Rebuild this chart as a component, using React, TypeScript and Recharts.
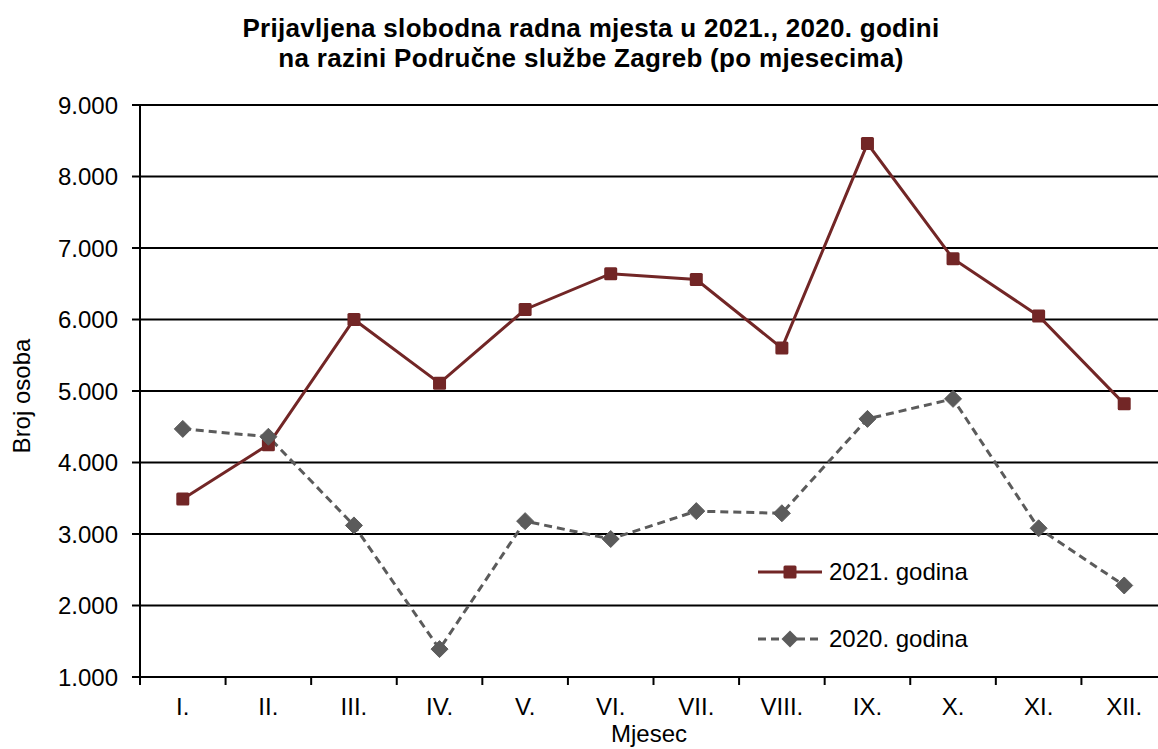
import { LineChart, Line, XAxis, YAxis, CartesianGrid } from 'recharts';

const months = ['I.', 'II.', 'III.', 'IV.', 'V.', 'VI.', 'VII.', 'VIII.', 'IX.', 'X.', 'XI.', 'XII.'];
const values2021 = [3490, 4250, 6000, 5110, 6140, 6640, 6560, 5600, 8460, 6850, 6050, 4820];
const values2020 = [4470, 4360, 3120, 1390, 3180, 2930, 3320, 3290, 4610, 4890, 3080, 2280];
const yTicks = [1000, 2000, 3000, 4000, 5000, 6000, 7000, 8000, 9000];

const data = months.map((m, i) => ({ month: m, y2021: values2021[i], y2020: values2020[i] }));

const COLOR_2021 = '#722626';
const COLOR_2020 = '#5b5b5b';
const FONT = 'Arial, "Liberation Sans", sans-serif';
const BAND = (1167 - 140) / months.length;

const fmt = (v: number) => v.toLocaleString('de-DE');

function SquareDot(props: any) {
  const { cx, cy } = props;
  if (cx == null || cy == null) return null;
  return <rect x={cx - 6.5} y={cy - 6.5} width={13} height={13} rx={1.5} fill={COLOR_2021} />;
}

function DiamondDot(props: any) {
  const { cx, cy } = props;
  if (cx == null || cy == null) return null;
  return (
    <polygon
      points={`${cx},${cy - 8.5} ${cx + 8.5},${cy} ${cx},${cy + 8.5} ${cx - 8.5},${cy}`}
      fill={COLOR_2020}
      strokeLinejoin="round"
      stroke={COLOR_2020}
      strokeWidth={1}
    />
  );
}

function MonthTick(props: any) {
  const { x, payload, index } = props;
  const axisY = 677;
  return (
    <g>
      <line x1={x - BAND / 2} x2={x - BAND / 2} y1={axisY} y2={axisY + 8} stroke="#000" strokeWidth={2} />
      {index === months.length - 1 && (
        <line x1={x + BAND / 2} x2={x + BAND / 2} y1={axisY} y2={axisY + 8} stroke="#000" strokeWidth={2} />
      )}
      <text x={x} y={axisY + 38} textAnchor="middle" fontSize={24} fontFamily={FONT} fill="#000">
        {payload.value}
      </text>
    </g>
  );
}

export default function App() {
  return (
    <div
      style={{
        position: 'absolute',
        left: 0,
        top: 0,
        width: 1158,
        height: 749,
        overflow: 'hidden',
        background: '#fff',
        fontFamily: FONT,
      }}
    >
      <LineChart width={1170} height={749} data={data} margin={{ top: 105, right: 3, left: 0, bottom: 0 }}>
        <CartesianGrid vertical={false} stroke="#000" strokeWidth={2} />
        <XAxis
          dataKey="month"
          scale="band"
          height={72}
          tickLine={false}
          axisLine={{ stroke: '#000', strokeWidth: 2 }}
          tick={<MonthTick />}
          interval={0}
        />
        <YAxis
          width={140}
          domain={[1000, 9000]}
          ticks={yTicks}
          tickFormatter={fmt}
          tickSize={8}
          tickMargin={14}
          tickLine={{ stroke: '#000', strokeWidth: 2 }}
          axisLine={{ stroke: '#000', strokeWidth: 2 }}
          tick={{ fill: '#000', fontSize: 24, fontFamily: FONT }}
          allowDataOverflow
        />
        <Line
          type="linear"
          dataKey="y2021"
          stroke={COLOR_2021}
          strokeWidth={3}
          dot={<SquareDot />}
          activeDot={false}
          isAnimationActive={false}
        />
        <Line
          type="linear"
          dataKey="y2020"
          stroke={COLOR_2020}
          strokeWidth={3}
          strokeDasharray="8 5"
          dot={<DiamondDot />}
          activeDot={false}
          isAnimationActive={false}
        />
      </LineChart>

      <svg style={{ position: 'absolute', left: 0, top: 0 }} width={1158} height={749} pointerEvents="none">
        <text x={591} y={37} textAnchor="middle" fontSize={26} fontWeight="bold" fontFamily={FONT} letterSpacing={0.3} fill="#000">
          Prijavljena slobodna radna mjesta u 2021., 2020. godini
        </text>
        <text x={591} y={67} textAnchor="middle" fontSize={26} fontWeight="bold" fontFamily={FONT} letterSpacing={0.3} fill="#000">
          na razini Područne službe Zagreb (po mjesecima)
        </text>

        <text transform="translate(30,396) rotate(-90)" textAnchor="middle" fontSize={24} fontFamily={FONT} fill="#000">
          Broj osoba
        </text>
        <text x={649} y={742} textAnchor="middle" fontSize={24} fontFamily={FONT} fill="#000">
          Mjesec
        </text>

        <line x1={758} x2={822} y1={572} y2={572} stroke={COLOR_2021} strokeWidth={3} />
        <rect x={783.5} y={565.5} width={13} height={13} rx={1.5} fill={COLOR_2021} />
        <text x={829} y={580} fontSize={24} fontFamily={FONT} fill="#000">
          2021. godina
        </text>
        <line x1={758} x2={822} y1={639} y2={639} stroke={COLOR_2020} strokeWidth={3} strokeDasharray="8 5" />
        <polygon points="790,630.5 798.5,639 790,647.5 781.5,639" fill={COLOR_2020} />
        <text x={829} y={647} fontSize={24} fontFamily={FONT} fill="#000">
          2020. godina
        </text>
      </svg>
    </div>
  );
}
